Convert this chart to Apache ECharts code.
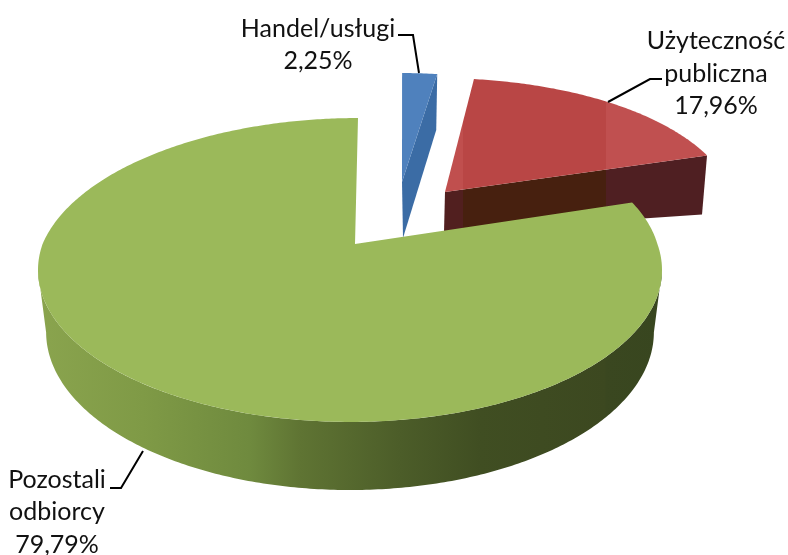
<!DOCTYPE html>
<html>
<head>
<meta charset="utf-8">
<style>html,body{margin:0;padding:0;background:#fff}#c{width:788px;height:555px}</style>
<script src="https://cdn.jsdelivr.net/npm/echarts@6/dist/echarts.min.js"></script>
</head>
<body>
<div id="c"></div>
<script>
const categories = ['Handel/usługi', 'Użyteczność publiczna', 'Pozostali odbiorcy'];
const values = [2.25, 17.96, 79.79];
const valueLabels = ['2,25%', '17,96%', '79,79%'];
const labelLines = [['Handel/usługi'], ['Użyteczność', 'publiczna'], ['Pozostali', 'odbiorcy']];

// Layout of the hand-tilted pie (perspective projection of a unit disc)
const P = {cx: 355, cy: 244, A: 307.4, B: 147.5, k: 0.171};
const W = 662 - 38;
const stop = x => (x - 38) / W;
const grad = (x1, x2, stops) => new echarts.graphic.LinearGradient(x1, 0, x2, 0,
  stops.map(s => ({offset: s[0], color: s[1]})), true);

const sliceStyle = [
  {sx: .95, sy: 1, tx: 62, ty: -45, apex: [402, 182], d0: [1, 56], d1: [-1, 56], z: 2,
   top: '#4f81bd', side: '#3b6ca5'},
  {sx: .983, sy: .916, tx: 85.7, ty: -30, apex: [445, 192], d0: [-1, 40], d1: [-5, 59], z: 1,
   top: grad(445, 707, [[0, '#c04f4e'], [.068, '#c04f4e'], [.069, '#b94645'], [.613, '#b94645'], [.614, '#c05050'], [1, '#c05050']]),
   side: grad(445, 707, [[0, '#511f1f'], [.068, '#511f1f'], [.069, '#47200f'], [.613, '#47200f'], [.614, '#4f1f22'], [1, '#4f1f22']])},
  {sx: 1, sy: 1, tx: 0, ty: 0, apex: [355, 244], z: 3,
   top: '#9bb95a',
   side: grad(38, 662, [[0, '#8aa44e'], [stop(143), '#7f9a46'], [stop(250), '#6f8a3e'], [stop(300), '#5f7433'],
     [stop(400), '#4c5d29'], [stop(480), '#404e22'], [stop(605), '#3c4820'], [stop(606), '#3a4720'], [1, '#38461f']])}
];
// Leader lines and label centres
const leaders = [
  [[398, 35], [413, 35], [419, 73]],
  [[608, 102], [650, 79], [662, 79]],
  [[143, 451], [121, 488], [110, 488]]
];
const labelPos = [
  {x: 318, y: [29, 61]},
  {x: 716, y: [41, 74, 106]},
  {x: 57, y: [480, 512, 545]}
];

function proj(th) {
  const u = Math.sin(th), v = Math.cos(th), s = 1 / (1 + P.k * v);
  const shear = v > 0 ? 8 * v * s * 1.171 : 0;
  return [P.cx - 5 + shear + P.A * u * s, P.cy - P.B * v * s];
}
function lower(p) { // green base rim
  return [350 + (p[0] - 350) * 0.974, 332 + (p[1] - 270) * 1.04];
}
function arc(a, b) {
  const pts = [], n = Math.max(2, Math.ceil(Math.abs(b - a) * 90));
  for (let i = 0; i <= n; i++) pts.push(proj(a + (b - a) * i / n));
  return pts;
}
const total = values.reduce((a, b) => a + b, 0);
const starts = [];
values.reduce((acc, v, i) => { starts[i] = acc; return acc + v; }, 0);

function renderItem(params, api) {
  const i = api.value(0), val = api.value(1), st = sliceStyle[i];
  const a = starts[i] / total * 2 * Math.PI, b = a + val / total * 2 * Math.PI;
  const map = p => [st.tx + st.sx * p[0], st.ty + st.sy * p[1]];
  const rim = arc(a, b).map(map);
  const children = [];
  if (st.d0) {
    const e = rim[rim.length - 1];
    children.push({type: 'polygon', z2: st.z * 10,
      shape: {points: [st.apex, e, [e[0] + st.d1[0], e[1] + st.d1[1]], [st.apex[0] + st.d0[0], st.apex[1] + st.d0[1]]]},
      style: {fill: st.side}});
  } else {
    const r = arc(Math.PI * 100 / 180, Math.PI * 260 / 180);
    children.push({type: 'polygon', z2: st.z * 10,
      shape: {points: r.concat(r.map(lower).reverse())}, style: {fill: st.side}});
  }
  children.push({type: 'polygon', z2: st.z * 10 + 1,
    shape: {points: [st.apex].concat(rim)}, style: {fill: st.top}});
  children.push({type: 'polyline', z2: 50, shape: {points: leaders[i]},
    style: {stroke: '#000', lineWidth: 2, fill: null}});
  const lines = labelLines[i].concat([valueLabels[i]]);
  lines.forEach((t, j) => children.push({type: 'text', z2: 60, style: {
    text: t, x: labelPos[i].x, y: labelPos[i].y[j], align: 'center', verticalAlign: 'middle',
    font: '25px Lato', fill: '#111'}}));
  return {type: 'group', children};
}

const chart = echarts.init(document.getElementById('c'), null, {renderer: 'canvas'});
chart.setOption({
  backgroundColor: '#fff',
  animation: false,
  series: [{
    type: 'custom',
    coordinateSystem: 'none',
    renderItem,
    silent: true,
    data: values.map((v, i) => [i, v, categories[i]])
  }]
});
</script>
</body>
</html>
